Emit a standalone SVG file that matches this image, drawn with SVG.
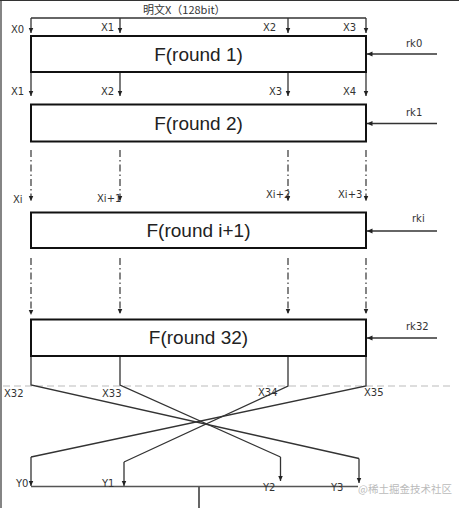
<svg xmlns="http://www.w3.org/2000/svg" width="459" height="508" viewBox="0 0 459 508">
<defs>
<marker id="ah" markerUnits="userSpaceOnUse" markerWidth="6" markerHeight="7" refX="5.5" refY="3" orient="auto">
<path d="M0,0.5 L5.5,3 L0,5.5 Z" fill="#222"/>
</marker>
</defs>
<style>
.box{fill:#fff;stroke:#111;stroke-width:2}
.ft{font-family:"Liberation Sans",Arial,sans-serif;font-size:19px;fill:#222;text-anchor:middle}
.lb{font-family:"DejaVu Sans",sans-serif;font-size:10px;fill:#333}
.ln{fill:none;stroke:#333;stroke-width:1.3}
.ar{fill:none;stroke:#333;stroke-width:1.3;marker-end:url(#ah)}
.da{fill:none;stroke:#444;stroke-width:1.3;stroke-dasharray:7,3,1.5,3;marker-end:url(#ah)}
.sep{fill:none;stroke:#bbb;stroke-width:1;stroke-dasharray:7,4}
</style>
<rect x="0" y="0" width="459" height="508" fill="#fff"/>
<g id="frame">
<line x1="0" y1="0.5" x2="459" y2="0.5" stroke="#333" stroke-width="1.2"/>
<line x1="1" y1="0" x2="1" y2="508" stroke="#333" stroke-width="1.2"/>
</g>
<g id="connectors">
<polyline class="ln" points="31,18 366,18"/>
<line class="ar" x1="31" y1="18" x2="31" y2="33"/>
<line class="ar" x1="120" y1="18" x2="120" y2="33"/>
<line class="ar" x1="288" y1="18" x2="288" y2="33"/>
<line class="ar" x1="366" y1="18" x2="366" y2="33"/>
<line class="ar" x1="31" y1="72" x2="31" y2="96"/>
<line class="ar" x1="120" y1="72" x2="120" y2="96"/>
<line class="ar" x1="288" y1="72" x2="288" y2="96"/>
<line class="ar" x1="366" y1="72" x2="366" y2="96"/>
<line class="da" x1="31" y1="150" x2="31" y2="201"/>
<line class="da" x1="120" y1="150" x2="120" y2="201"/>
<line class="da" x1="288" y1="150" x2="288" y2="201"/>
<line class="da" x1="366" y1="150" x2="366" y2="201"/>
<line class="da" x1="31" y1="258" x2="31" y2="315"/>
<line class="da" x1="120" y1="258" x2="120" y2="314"/>
<line class="da" x1="288" y1="258" x2="288" y2="314"/>
<line class="da" x1="366" y1="258" x2="366" y2="314"/>
<line class="ar" x1="437" y1="54" x2="367" y2="54"/>
<line class="ar" x1="437" y1="123.5" x2="367" y2="123.5"/>
<line class="ar" x1="437" y1="231" x2="367" y2="231"/>
<line class="ar" x1="437" y1="338" x2="367" y2="338"/>
<line class="sep" x1="3" y1="386" x2="452" y2="386"/>
<polyline class="ln" points="31,356 31,385 359,458.5"/>
<line class="ar" x1="359" y1="458.5" x2="359" y2="483"/>
<polyline class="ln" points="120,356 120,385 280.5,457"/>
<line class="ar" x1="280.5" y1="457" x2="280.5" y2="481"/>
<polyline class="ln" points="288,356 288,386 124,462"/>
<line class="ar" x1="124" y1="462" x2="124" y2="486"/>
<polyline class="ln" points="366,356 366,386 31,457"/>
<line class="ar" x1="31" y1="457" x2="31" y2="486"/>
<line x1="31" y1="486.5" x2="358" y2="486.5" stroke="#555" stroke-width="1.6"/>
<line x1="199" y1="486.5" x2="199" y2="508" stroke="#555" stroke-width="1.8"/>
</g>
<g id="r1"><rect class="box" x="31" y="36" width="335" height="36"/><text class="ft" x="198.5" y="61">F(round 1)</text></g>
<g id="r2"><rect class="box" x="31" y="104.5" width="335" height="37"/><text class="ft" x="198.5" y="130">F(round 2)</text></g>
<g id="ri"><rect class="box" x="31" y="212.5" width="335" height="35.5"/><text class="ft" x="198.5" y="237">F(round i+1)</text></g>
<g id="r32"><rect class="box" x="31" y="319.5" width="335" height="36.5"/><text class="ft" x="198.5" y="344">F(round 32)</text></g>
<g id="labels">
<text x="143" y="14" style="font-family:'Noto Sans CJK SC',sans-serif;font-size:11px;fill:#333">明文X（128bit）</text>
<text class="lb" x="11" y="33.3">X0</text>
<text class="lb" x="101" y="31">X1</text>
<text class="lb" x="263" y="31">X2</text>
<text class="lb" x="343" y="31">X3</text>
<text class="lb" x="11" y="95">X1</text>
<text class="lb" x="101" y="95">X2</text>
<text class="lb" x="269" y="95">X3</text>
<text class="lb" x="343" y="95">X4</text>
<text class="lb" x="406" y="47">rk0</text>
<text class="lb" x="406" y="116">rk1</text>
<text class="lb" x="13" y="203">Xi</text>
<text class="lb" x="97" y="201.5">Xi+1</text>
<text class="lb" x="266" y="198">Xi+2</text>
<text class="lb" x="338" y="198">Xi+3</text>
<text class="lb" x="412" y="222">rki</text>
<text class="lb" x="406" y="330">rk32</text>
<text class="lb" x="4" y="397">X32</text>
<text class="lb" x="102" y="397">X33</text>
<text class="lb" x="258" y="396">X34</text>
<text class="lb" x="364" y="396">X35</text>
<text class="lb" x="16" y="487">Y0</text>
<text class="lb" x="102" y="487">Y1</text>
<text class="lb" x="263" y="491">Y2</text>
<text class="lb" x="331" y="491">Y3</text>
<text x="358" y="493" style="font-family:'Noto Sans CJK SC',sans-serif;font-size:10.5px;fill:#bbb">@稀土掘金技术社区</text>
</g>
</svg>
